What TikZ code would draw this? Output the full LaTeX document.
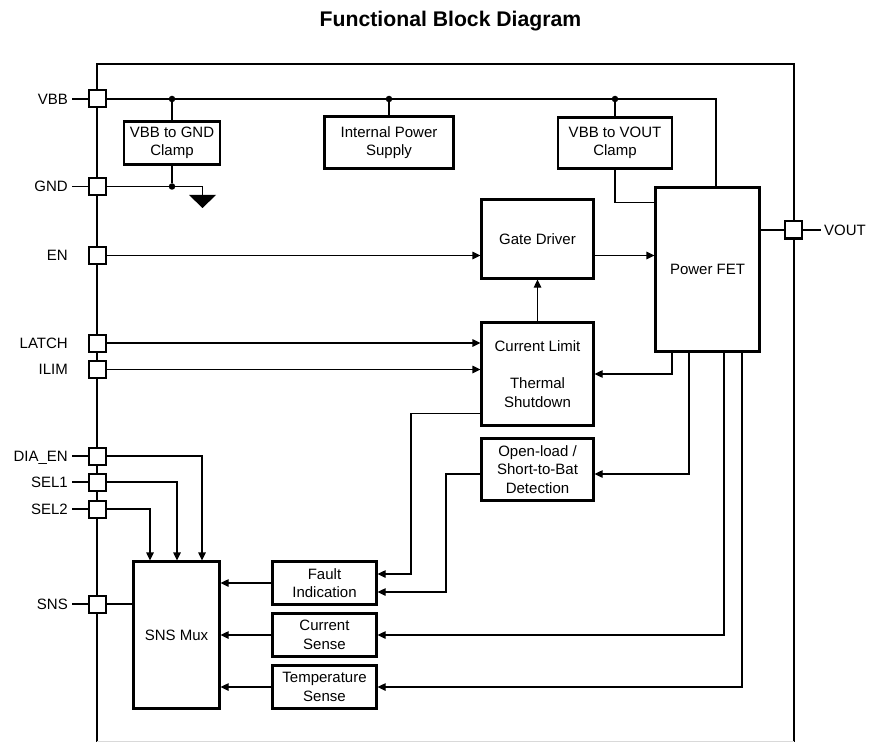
\documentclass[tikz,border=0pt]{standalone}
\usepackage{fontspec}
\setmainfont{Liberation Sans}
\usetikzlibrary{arrows.meta}
\begin{document}
\begin{tikzpicture}[x=1pt,y=-1pt,
  every node/.style={font=\fontsize{15}{18.5}\selectfont},
  blk/.style={draw,line width=2.2pt,inner sep=0pt,align=center},
  pin/.style={draw,line width=2pt,fill=white,minimum size=17pt,inner sep=0pt},
  lbl/.style={inner sep=0pt,text height=10.7pt,text depth=0pt},
  wire/.style={line width=1.2pt},
  arr/.style={wire,-{Triangle[length=8pt,width=7.5pt]}},
  dot/.style={circle,fill,inner sep=0pt,minimum size=6.5pt}]
\useasboundingbox (0,0) rectangle (869,743);

% title
\node[inner sep=0pt,text height=15pt,text depth=0pt,font=\fontsize{21.2}{24}\selectfont\bfseries] (title) at (450.5,19.5) {Functional Block Diagram};

% outer frame
\draw[wire] (97,741.5) -- (97,64) -- (794,64) -- (794,741.5);
\draw[gray!30,line width=1pt] (97,741.5) -- (794,741.5);

% blocks
\node[blk,minimum width=96pt,minimum height=43pt] (clampG) at (172,143) {VBB to GND\\Clamp};
\node[blk,minimum width=129pt,minimum height=52pt] (ips) at (389,142.5) {Internal Power\\Supply};
\node[blk,minimum width=114pt,minimum height=51pt] (clampV) at (615,143) {VBB to VOUT\\Clamp};
\node[blk,minimum width=104pt,minimum height=164pt] (fet) at (707.5,269.5) {Power FET};
\node[blk,minimum width=112pt,minimum height=79pt] (gd) at (537.5,239) {Gate Driver};
\node[blk,minimum width=112pt,minimum height=103pt] (cl) at (537.5,374) {Current Limit\\[19pt]Thermal\\Shutdown};
\node[blk,minimum width=112pt,minimum height=62pt] (ol) at (537.5,469.5) {Open-load /\\Short-to-Bat\\Detection};
\node[blk,minimum width=104pt,minimum height=43pt] (fault) at (324.5,583) {Fault\\Indication};
\node[blk,minimum width=104pt,minimum height=43pt] (cs) at (324.5,635) {Current\\Sense};
\node[blk,minimum width=104pt,minimum height=43pt] (ts) at (324.5,687) {Temperature\\Sense};
\node[blk,minimum width=86pt,minimum height=147pt] (mux) at (176.5,635) {SNS Mux};

% pins
\node[pin] (vbb) at (97.5,99) {};
\node[pin] (gnd) at (97.5,186.5) {};
\node[pin] (en) at (97.5,255.5) {};
\node[pin] (latch) at (97.5,343) {};
\node[pin] (ilim) at (97.5,369.5) {};
\node[pin] (dia) at (97.5,456) {};
\node[pin] (sel1) at (97.5,482) {};
\node[pin] (sel2) at (97.5,509) {};
\node[pin] (sns) at (97.5,604) {};
\node[pin] (vout) at (793.5,230) {};

% pin labels
\node[lbl,anchor=east] (tvbb) at (68,99) {VBB};
\node[lbl,anchor=east] (tgnd) at (68,186.5) {GND};
\node[lbl,anchor=east] (ten) at (68,255.5) {EN};
\node[lbl,anchor=east] (tlatch) at (68,343) {LATCH};
\node[lbl,anchor=east] (tilim) at (68,369.5) {ILIM};
\node[lbl,anchor=east] (tdia) at (68,456) {DIA\_EN};
\node[lbl,anchor=east] (tsel1) at (68,482) {SEL1};
\node[lbl,anchor=east] (tsel2) at (68,509) {SEL2};
\node[lbl,anchor=east] (tsns) at (68,604) {SNS};
\node[lbl,anchor=west] (tvout) at (824,230) {VOUT};

\foreach \t/\p in {tvbb/vbb,tgnd/gnd,tdia/dia,tsel1/sel1,tsel2/sel2,tsns/sns}
  \draw[wire] ([xshift=4pt]\t.east) -- (\p.west);
\draw[wire] (vout.east) -- ([xshift=-3pt]tvout.west);

% VBB rail
\draw[wire] (vbb.east) -| ([xshift=8.5pt]fet.north);
\node[dot] (d1) at (clampG.north |- vbb.east) {};
\node[dot] (d2) at (ips.north |- vbb.east) {};
\node[dot] (d3) at (clampV.north |- vbb.east) {};
\draw[wire] (d1) -- (clampG.north);
\draw[wire] (d2) -- (ips.north);
\draw[wire] (d3) -- (clampV.north);
\draw[wire] (clampV.south) |- ([yshift=-16pt]fet.north west);

% GND
\node[dot] (d4) at (clampG.south |- gnd.east) {};
\draw[wire] (clampG.south) -- (d4);
\coordinate (gndT) at (202.5,195);
\draw[wire] (gnd.east) -| (gndT);
\fill ([xshift=-13.5pt]gndT) -- ([xshift=13.5pt]gndT) -- ([yshift=-13pt]gndT) -- cycle;

% VOUT
\draw[wire] (fet.east |- vout.west) -- (vout.west);

% control path
\draw[arr] (en.east) -- (gd.west |- en.east);
\draw[arr] (gd.east |- en.east) -- (fet.west |- en.east);
\draw[arr] (cl.north) -- (gd.south);
\draw[arr] (latch.east) -- (cl.west |- latch.east);
\draw[arr] (ilim.east) -- (cl.west |- ilim.east);
\draw[arr] ([xshift=-35.5pt]fet.south) |- (cl.east);
\draw[arr] ([xshift=-18.5pt]fet.south) |- ([yshift=-4.5pt]ol.east);

% fault paths
\coordinate (k1) at (411,574);
\coordinate (k2) at (446,592);
\draw[arr] ([yshift=13pt]cl.south west) -| (k1) -- (k1 -| fault.east);
\draw[arr] ([yshift=-4.5pt]ol.west) -| (k2) -- (k2 -| fault.east);

% sense paths
\draw[arr] ([xshift=16.5pt]fet.south) |- (cs.east);
\draw[arr] ([xshift=34.5pt]fet.south) |- (ts.east);
\draw[arr] (fault.west) -- (fault.west -| mux.east);
\draw[arr] (cs.west) -- (cs.west -| mux.east);
\draw[arr] (ts.west) -- (ts.west -| mux.east);

% mux control
\draw[arr] (dia.east) -| ([xshift=25.5pt]mux.north);
\draw[arr] (sel1.east) -| ([xshift=0.5pt]mux.north);
\draw[arr] (sel2.east) -| ([xshift=-26.5pt]mux.north);
\draw[wire] (sns.east) -- (mux.west |- sns.east);
\end{tikzpicture}
\end{document}
